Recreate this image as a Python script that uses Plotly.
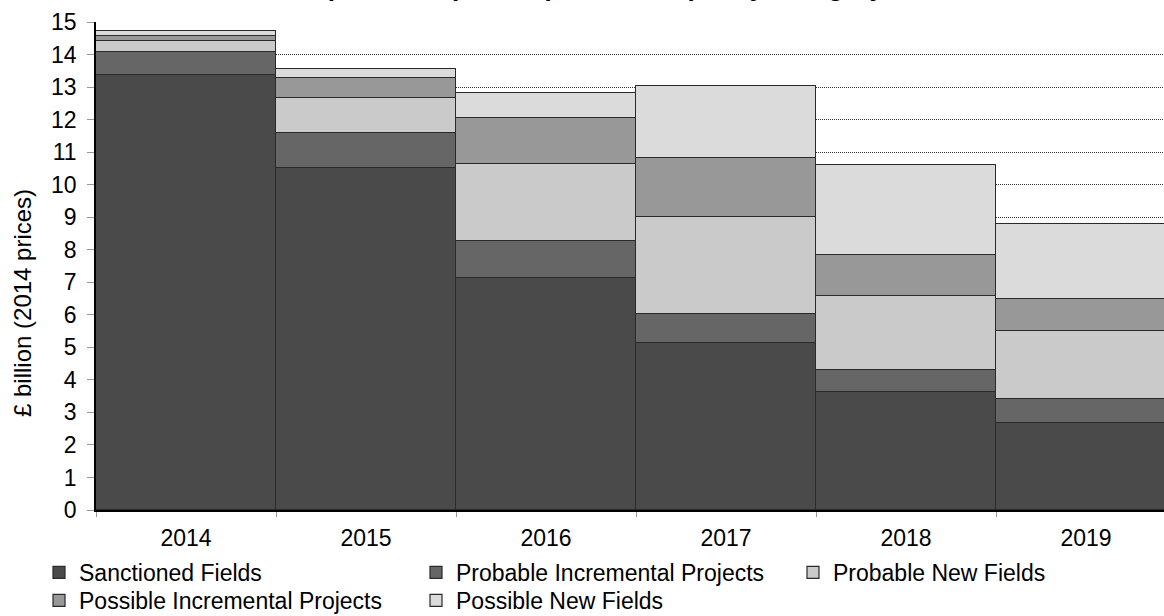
import plotly.graph_objects as go

years = ["2014", "2015", "2016", "2017", "2018", "2019"]
sanctioned = [13.37, 10.51, 7.13, 5.14, 3.63, 2.66]
probable_incremental = [0.72, 1.07, 1.14, 0.90, 0.67, 0.74]
probable_new = [0.34, 1.07, 2.36, 2.96, 2.28, 2.11]
possible_incremental = [0.13, 0.62, 1.41, 1.83, 1.26, 0.97]
possible_new = [0.17, 0.28, 0.77, 2.20, 2.77, 2.30]

series = [
    ("Sanctioned Fields", sanctioned, "#4a4a4a", "legend"),
    ("Probable Incremental Projects", probable_incremental, "#666666", "legend"),
    ("Probable New Fields", probable_new, "#cacaca", "legend"),
    ("Possible Incremental Projects", possible_incremental, "#989898", "legend2"),
    ("Possible New Fields", possible_new, "#dbdbdb", "legend2"),
]

FONT = "Liberation Sans, Arial, sans-serif"

L, T, B = 96, 22, 106
PLOT_W = 1164 - L
PLOT_H = 616 - T - B


def py(pix):
    """window pixel row -> paper y"""
    return (T + PLOT_H - pix) / PLOT_H


fig = go.Figure()
for name, vals, col, leg in series:
    fig.add_trace(go.Bar(
        x=years, y=vals, name=name, legend=leg,
        marker=dict(color=col, line=dict(color="#2a2a2a", width=1.2)),
    ))

legend_common = dict(
    orientation="h", xref="paper", yref="paper",
    x=(39 - L) / PLOT_W, xanchor="left", yanchor="top",
    entrywidth=332, entrywidthmode="pixels",
    font=dict(size=23, family=FONT), itemwidth=30,
    traceorder="normal", bgcolor="rgba(0,0,0,0)",
)

fig.update_layout(
    width=1164, height=616,
    barmode="stack", bargap=0,
    plot_bgcolor="white", paper_bgcolor="white",
    margin=dict(l=L, r=0, t=T, b=B, autoexpand=False),
    font=dict(family=FONT, size=23, color="black"),
    showlegend=True,
    legend=dict(legend_common, y=py(551)),
    legend2=dict(legend_common, y=py(579)),
    annotations=[
        dict(
            text="<b>Expected Capital Expenditure Split by Category</b>",
            xref="paper", yref="paper", x=(590 - L) / PLOT_W, y=1,
            xanchor="center", yanchor="bottom", yshift=18, showarrow=False,
            font=dict(size=26, family=FONT, color="black"),
        ),
        dict(
            text="£ billion (2014 prices)", textangle=-90,
            xref="paper", yref="paper", x=0, y=py(303),
            xanchor="center", yanchor="middle", xshift=-74, showarrow=False,
            font=dict(size=24, family=FONT, color="black"),
        ),
    ],
)

fig.update_xaxes(
    type="category", range=[-0.5, -0.5 + PLOT_W / 180], automargin=False,
    tickson="boundaries", ticks="outside", ticklen=5, tickcolor="#999999",
    showline=True, linecolor="black", linewidth=1.5,
    showgrid=False, ticklabelstandoff=7,
)
fig.update_yaxes(
    range=[0, 15], dtick=1, tick0=0, automargin=False,
    ticks="outside", ticklen=7, tickcolor="#999999",
    showline=True, linecolor="black", linewidth=1.5,
    showgrid=True, gridcolor="#333333", gridwidth=1, griddash="1px,1px",
    zeroline=False, ticklabelstandoff=6,
)

fig.write_html(
    "out.html",
    config={"displayModeBar": False},
    post_script="document.body.style.margin='0';document.body.style.overflow='hidden';",
)
